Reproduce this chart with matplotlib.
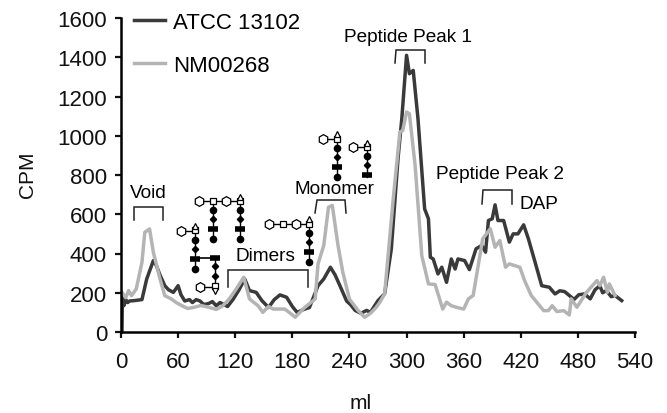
import matplotlib
matplotlib.use('Agg')
import matplotlib.pyplot as plt

plt.rcParams['font.family'] = ['Liberation Sans', 'DejaVu Sans']

# dark trace
atcc_ml = [1, 1.5, 3, 5, 7, 9, 14, 22, 27, 34, 37, 41, 46, 50, 55, 60, 63, 67, 72, 75, 79, 83, 87, 92, 96, 100, 104, 107, 112, 118, 124, 130, 135,
           142, 148, 155, 161, 167, 174, 180, 185, 192, 198, 207, 213, 220, 225, 230, 237, 241, 246, 252, 258, 262, 270, 277, 284, 291, 295, 300, 303,
           307, 312, 319, 323, 325, 328, 333, 337, 342, 347, 351, 354, 361, 366, 373, 379, 383, 386, 390,
           393, 396, 402, 408, 412, 417, 423, 428, 435, 442, 450, 456, 461, 466, 471, 476, 481, 487, 493, 498, 503, 506, 510,
           515, 519, 526]
atcc_cpm = [0, 184, 134, 165, 150, 158, 160, 165, 270, 364, 340, 290, 236, 215, 202, 236, 190, 158, 165, 150, 165, 158, 140, 145, 155, 134, 150, 143, 130, 168, 215, 270, 211,
            202, 160, 125, 165, 189, 177, 130, 100, 115, 125, 236, 270, 330, 290, 236, 158, 140, 110, 95, 110, 100, 160, 195, 423, 882, 1087, 1410, 1316,
            1333, 1087, 627, 577, 381, 372, 296, 330, 253, 372, 321, 372, 364, 318, 424, 441, 407, 568, 577,
            648, 568, 568, 458, 500, 500, 546, 475, 356, 236, 228, 194, 210, 206, 186, 166, 190, 194, 169, 215, 236, 200, 211,
            180, 186, 160]

# grey trace
nm_ml = [1, 5, 8, 11, 16, 22, 25, 30, 34, 41, 46, 53, 58, 64, 70, 76, 84, 93, 100, 107, 114, 121, 129, 135, 144, 149, 155, 160, 172, 178, 183, 193,
         204, 207, 213, 218, 222, 228, 233, 240, 249, 253, 256, 262, 268, 272, 277, 286, 293, 296, 300, 303, 309, 316,
         323, 330, 338, 342, 347, 353, 360, 365, 370, 380, 388, 393, 398, 404, 408, 419, 424, 431, 444, 449,
         453, 458, 465, 471, 473, 479, 489, 500, 503, 507, 511, 513, 519]
nm_cpm = [202, 175, 211, 185, 219, 355, 508, 525, 406, 270, 185, 168, 150, 134, 120, 125, 135, 125, 115, 134, 170, 219, 279, 168, 134, 100, 130, 117, 117, 95, 75, 125,
          168, 347, 441, 636, 645, 441, 305, 168, 110, 90, 75, 95, 125, 152, 195, 678, 1019, 1027, 1121, 1112, 848, 389,
          245, 242, 117, 152, 134, 125, 117, 169, 186, 475, 526, 432, 466, 330, 347, 330, 262, 186, 109, 109,
          134, 104, 109, 87, 169, 126, 202, 262, 236, 279, 202, 245, 186]

x_ticks = list(range(0, 541, 60))
y_ticks = list(range(0, 1601, 200))

DARK = '#3a3a3a'
GREY = '#b4b4b4'
FS = 16
NOTE = 13.7


# draws a pixel-space bracket from zoomed-in coords
def bracket(ov, pts):
    ov.plot([p[0] for p in pts], [p[1] for p in pts], color='#222222', lw=1.1, solid_joinstyle='miter')


# one glycan stem: circle, diamond, bar and optional end circle going down from x, y
def stem(ov, x, y, end=True):
    bottom = y + 38 if end else y + 30
    ov.plot([x, x], [y, bottom], color='black', lw=1, zorder=2)
    ov.plot([x], [y + 9], 'o', color='black', ms=4.5, zorder=3)
    ov.plot([x], [y + 18], 'D', color='black', ms=3.2, zorder=3)
    ov.plot([x - 5, x + 5], [y + 28, y + 28], color='black', lw=4, zorder=3, solid_capstyle='butt')
    if end:
        ov.plot([x], [y + 38], 'o', color='black', ms=4.5, zorder=3)


def open_mark(ov, x, y, m, size=5):
    ov.plot([x], [y], m, mfc='white', mec='black', mew=0.9, ms=size, zorder=4)


fig = plt.figure(figsize=(6.67, 4.14), dpi=100)
ax = fig.add_axes([121 / 667, 1 - 333 / 414, (635 - 121) / 667, (333 - 19) / 414])

ax.plot(atcc_ml, atcc_cpm, color=DARK, lw=2.5, label='ATCC 13102', solid_joinstyle='round')
ax.plot(nm_ml, nm_cpm, color=GREY, lw=2.5, label='NM00268', solid_joinstyle='round')

ax.set_xlim(0, 540)
ax.set_ylim(0, 1600)
ax.set_xticks(x_ticks)
ax.set_yticks(y_ticks)
ax.tick_params(labelsize=FS, width=1.6, length=4, colors='#111111')
ax.tick_params(axis='x', pad=10)
ax.tick_params(axis='y', pad=6)
for s in ['top', 'right']:
    ax.spines[s].set_visible(False)
for s in ['left', 'bottom']:
    ax.spines[s].set_linewidth(1.8)

# overlay in image pixels for the annotations
ov = fig.add_axes([0, 0, 1, 1])
ov.set_xlim(0, 667)
ov.set_ylim(414, 0)
ov.axis('off')
ov.patch.set_alpha(0)

handles, labels = ax.get_legend_handles_labels()
ov.legend(handles, labels, loc='upper left', bbox_to_anchor=(134 / 667, 1 - 13 / 414), frameon=False,
          fontsize=FS, handlelength=1.4, handletextpad=0.36, labelspacing=1.0, borderpad=0, borderaxespad=0)

ov.text(27, 175, 'CPM', rotation=90, ha='center', va='center', fontsize=15, color='#111111')
ov.text(361, 404, 'ml', ha='center', va='center', fontsize=15, color='#111111')

ov.text(148, 194, 'Void', ha='center', va='center', fontsize=NOTE)
ov.text(265, 257, 'Dimers', ha='center', va='center', fontsize=NOTE)
ov.text(335, 190, 'Monomer', ha='center', va='center', fontsize=NOTE)
ov.text(408, 37, 'Peptide Peak 1', ha='center', va='center', fontsize=NOTE)
ov.text(500, 175, 'Peptide Peak 2', ha='center', va='center', fontsize=NOTE)
ov.text(539, 205, 'DAP', ha='center', va='center', fontsize=NOTE)

bracket(ov, [(134, 221), (134, 208), (163, 208), (163, 221)])
bracket(ov, [(228, 288), (228, 271), (308, 271), (308, 288)])
bracket(ov, [(315, 214), (317, 201), (345, 201), (346, 214)])
bracket(ov, [(395, 64), (396, 51), (425, 51), (425, 64)])
bracket(ov, [(482, 205), (483, 191), (512, 191), (512, 205)])

# lower-left dimer
ov.plot([181, 195], [232, 232], color='black', lw=1)
open_mark(ov, 181, 232, 'h', 7)
open_mark(ov, 195, 231, 's', 4)
open_mark(ov, 195, 227, '^', 4.5)
stem(ov, 195, 232)
ov.plot([195, 215], [259, 259], color='black', lw=1.2)
ov.plot([215, 215], [259, 287], color='black', lw=1)
ov.plot([210, 220], [259, 259], color='black', lw=4, solid_capstyle='butt')
ov.plot([215], [267], 'D', color='black', ms=3.2)
ov.plot([215], [277], 'D', color='black', ms=3.2)
ov.plot([200, 215], [288, 288], color='black', lw=1)
open_mark(ov, 200, 288, 'h', 7)
open_mark(ov, 215, 287, 's', 4)
open_mark(ov, 215, 292, 'v', 4.5)

# top dimer
ov.plot([199, 240], [202, 202], color='black', lw=1)
open_mark(ov, 199, 202, 'h', 7)
open_mark(ov, 213, 202, 's', 4)
open_mark(ov, 226, 202, 'h', 7)
open_mark(ov, 240, 202, 's', 4)
open_mark(ov, 240, 198, '^', 4.5)
stem(ov, 213, 202)
stem(ov, 240, 202)

# right dimer
ov.plot([269, 309], [225, 225], color='black', lw=1)
open_mark(ov, 269, 225, 'h', 7)
open_mark(ov, 283, 225, 's', 4)
open_mark(ov, 296, 225, 'h', 7)
open_mark(ov, 309, 225, 's', 4)
open_mark(ov, 309, 220, '^', 4.5)
stem(ov, 309, 225)

# monomers
ov.plot([323, 337], [140, 140], color='black', lw=1)
open_mark(ov, 323, 140, 'h', 7)
open_mark(ov, 337, 140, 's', 4)
open_mark(ov, 337, 135, '^', 4.5)
stem(ov, 337, 140)

ov.plot([353, 367], [148, 148], color='black', lw=1)
open_mark(ov, 353, 148, 'h', 7)
open_mark(ov, 367, 148, 's', 4)
open_mark(ov, 367, 144, '^', 4.5)
stem(ov, 367, 148, end=False)

fig.savefig('out.png', dpi=100)
